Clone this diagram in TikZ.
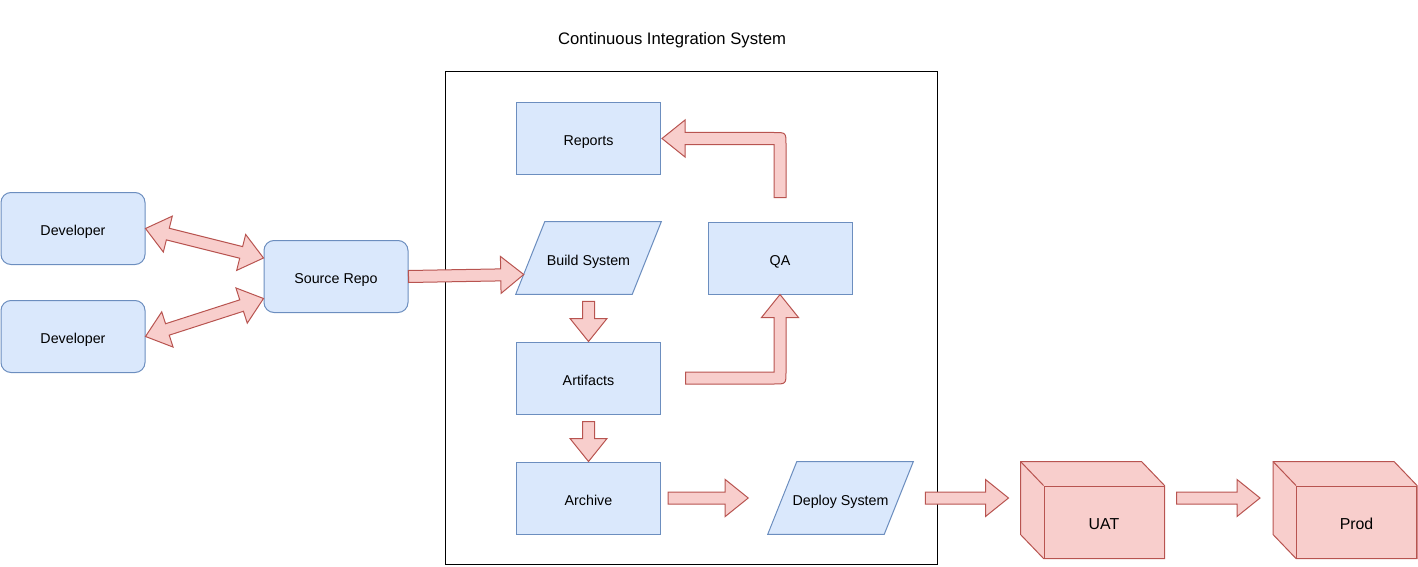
\documentclass[tikz,border=0pt]{standalone}
\usepackage{fontspec}
\setmainfont{Liberation Sans}
\usetikzlibrary{calc,backgrounds}
\definecolor{bfill}{HTML}{DAE8FC}
\definecolor{bline}{HTML}{6C8EBF}
\definecolor{rfill}{HTML}{F8CECC}
\definecolor{rline}{HTML}{B85450}
\newcommand\fsmain{\fontsize{10.7}{12.8}\selectfont}
\newcommand\fscube{\fontsize{11.9}{14}\selectfont}
\newcommand\fstitle{\fontsize{12.5}{15}\selectfont}
\newcommand\flexSW{4.5pt}
\newcommand\flexHW{13.875pt}
\newcommand\flexHL{17.25pt}
\newcommand\flexarrow[2]{%
 \draw[flexst] ($(#1)!\flexSW!90:(#2)$)
 -- ($(#2)!\flexHL!(#1)!\flexSW!-90:(#1)$)
 -- ($(#2)!\flexHL!(#1)!\flexHW!-90:(#1)$)
 -- (#2)
 -- ($(#2)!\flexHL!(#1)!\flexHW!90:(#1)$)
 -- ($(#2)!\flexHL!(#1)!\flexSW!90:(#1)$)
 -- ($(#1)!\flexSW!-90:(#2)$) -- cycle;}
\newcommand\flexdouble[2]{%
 \draw[flexst] (#1)
 -- ($(#1)!\flexHL!(#2)!\flexHW!90:(#2)$)
 -- ($(#1)!\flexHL!(#2)!\flexSW!90:(#2)$)
 -- ($(#2)!\flexHL!(#1)!\flexSW!-90:(#1)$)
 -- ($(#2)!\flexHL!(#1)!\flexHW!-90:(#1)$)
 -- (#2)
 -- ($(#2)!\flexHL!(#1)!\flexHW!90:(#1)$)
 -- ($(#2)!\flexHL!(#1)!\flexSW!90:(#1)$)
 -- ($(#1)!\flexHL!(#2)!\flexSW!-90:(#2)$)
 -- ($(#1)!\flexHL!(#2)!\flexHW!-90:(#2)$)
 -- cycle;}
\begin{document}
\begin{tikzpicture}[x=0.75pt,y=-0.75pt,
  txt/.style={font=\fsmain,text=black,text height=10.5pt,text depth=0pt},
  box/.style={txt,draw=bline,fill=bfill,line width=0.75pt,minimum width=108pt,minimum height=54pt,inner sep=0pt},
  devbox/.style={box,rounded corners=7.5pt},
  plain/.style={txt,minimum width=108.75pt,minimum height=54pt,inner sep=0pt},
  para/.style={draw=bline,fill=bfill,line width=0.75pt},
  cubefront/.style={draw=rline,fill=rfill,line width=0.75pt,minimum width=90pt,minimum height=54pt,inner sep=0pt,font=\fscube,text=black,text height=11.5pt,text depth=0pt},
  cubeback/.style={draw=rline,fill=rfill,line width=0.75pt},
  flexst/.style={draw=rline,fill=rfill,line width=0.75pt},
  frame/.style={draw=black,line width=0.75pt,minimum width=369pt,minimum height=369pt,inner sep=0pt}]
\useasboundingbox (0,0) rectangle (1418,567);
\node[frame] (ci) at (691,318) {};
\node[font=\fstitle,text=black,text height=12pt,text depth=0pt,inner sep=0pt] (title) at (672,37) {Continuous Integration System};
\node[devbox] (dev1) at (73,228.5) {Developer};
\node[devbox] (dev2) at (73,336.5) {Developer};
\node[devbox] (src) at (336,276.5) {Source Repo};
\node[box] (rep) at (588.5,138.5) {Reports};
\node[plain] (build) at (588.5,258) {Build System};
\node[box] (qa) at (780,258) {QA};
\node[box] (art) at (588.5,378) {Artifacts};
\node[box] (arch) at (588.5,498) {Archive};
\node[plain] (dep) at (840.5,498) {Deploy System};
\node[cubefront] (uat) at (1104,522) {UAT};
\node[cubefront] (prod) at (1356.5,522) {Prod};
\begin{scope}[on background layer]
 \draw[para] ($(build.north west)+(29,0)$) -- (build.north east) -- ($(build.south east)+(-29,0)$) -- (build.south west) -- cycle;
 \draw[para] ($(dep.north west)+(29,0)$) -- (dep.north east) -- ($(dep.south east)+(-29,0)$) -- (dep.south west) -- cycle;
 \foreach \c in {uat,prod}{
  \draw[cubeback] ($(\c.north west)+(-23,-24)$) -- ($(\c.north east)+(-23,-24)$) -- (\c.north east) -- (\c.south east) -- (\c.south west) -- ($(\c.south west)+(-23,-24)$) -- cycle;
  \draw[cubeback] ($(\c.north west)+(-23,-24)$) -- (\c.north west);
 }
\end{scope}
% straight connectors
\coordinate (d1a) at (dev1.east);
\coordinate (d1b) at ($(src.west)+(0,-18.5)$);
\coordinate (d2a) at (dev2.east);
\coordinate (d2b) at ($(src.west)+(0,22)$);
\flexdouble{d1a}{d1b}
\flexdouble{d2a}{d2b}
\coordinate (s1) at (src.east);
\coordinate (s2) at ($(build.west)+(8,16.5)$);
\flexarrow{s1}{s2}
\coordinate (ba1) at ($(build.south)+(0,7)$);
\coordinate (ba2) at (art.north);
\flexarrow{ba1}{ba2}
\coordinate (aa1) at ($(art.south)+(0,7)$);
\coordinate (aa2) at (arch.north);
\flexarrow{aa1}{aa2}
\coordinate (ad1) at ($(arch.east)+(7,0)$);
\coordinate (ad2) at ($(dep.west)+(-19.5,0)$);
\flexarrow{ad1}{ad2}
\coordinate (du1) at ($(dep.east)+(12,0)$);
\coordinate (du2) at ($(uat.west)+(-35,-24)$);
\flexarrow{du1}{du2}
\coordinate (up1) at ($(uat.east)+(12,-24)$);
\coordinate (up2) at ($(prod.west)+(-36,-24)$);
\flexarrow{up1}{up2}
% bent connectors
\coordinate (b1) at ($(art.east)+(24.5,0)$);
\coordinate (b2) at (qa.south);
\coordinate (c1) at (b2 |- b1);
\draw[flexst] ($(b1)+(0,-6)$) -- ($(c1)+(-6,-6)$) -- ($(b2)+(-6,23)$) -- ($(b2)+(-18.5,23)$) -- (b2) -- ($(b2)+(18.5,23)$) -- ($(b2)+(6,23)$) -- ($(c1)+(6,-6)$) .. controls ($(c1)+(6,6)$) .. ($(c1)+(-6,6)$) -- ($(b1)+(0,6)$) -- cycle;
\coordinate (b3) at ($(qa.north)+(0,-24)$);
\coordinate (b4) at ($(rep.east)+(1,0)$);
\coordinate (c2) at (b3 |- b4);
\draw[flexst] ($(b3)+(-6,0)$) -- ($(c2)+(-6,6)$) -- ($(b4)+(23,6)$) -- ($(b4)+(23,18.5)$) -- (b4) -- ($(b4)+(23,-18.5)$) -- ($(b4)+(23,-6)$) -- ($(c2)+(-6,-6)$) .. controls ($(c2)+(6,-6)$) .. ($(c2)+(6,6)$) -- ($(b3)+(6,0)$) -- cycle;
\end{tikzpicture}
\end{document}
